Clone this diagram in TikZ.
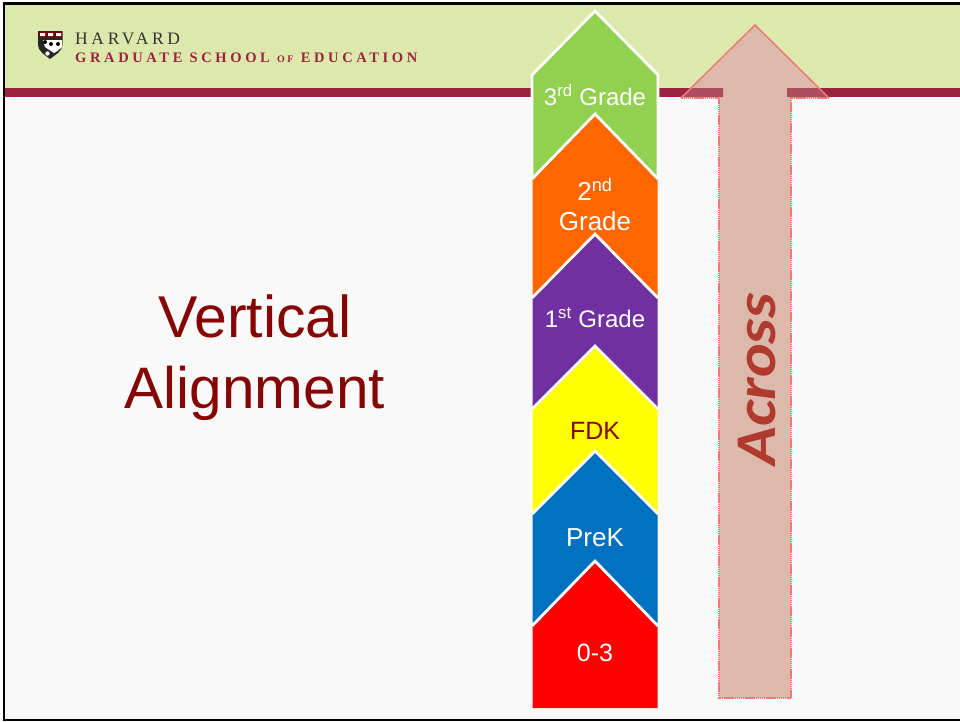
\documentclass[tikz,border=0pt]{standalone}
\usepackage{fontspec}
\setmainfont{Liberation Sans}
\newfontfamily\serifrm[LetterSpace=21]{Liberation Serif}
\newfontfamily\serifbd[LetterSpace=25]{Liberation Serif Bold}
\newfontfamily\crb{Carlito}
\definecolor{pagebg}{HTML}{F9F9F9}
\definecolor{bandgreen}{HTML}{DDE9AC}
\definecolor{burgundy}{HTML}{9A2340}
\definecolor{titlered}{HTML}{850505}
\definecolor{gthree}{HTML}{92D050}
\definecolor{gtwo}{HTML}{FF6600}
\definecolor{gone}{HTML}{7030A0}
\definecolor{gfdk}{HTML}{FFFF00}
\definecolor{gprek}{HTML}{0070C0}
\definecolor{gzero}{HTML}{FF0000}
\definecolor{arrowfill}{HTML}{DDB9AC}
\definecolor{arrowedge}{HTML}{F07878}
\definecolor{acrosscol}{HTML}{B03A2E}
\newcommand{\fs}[1]{\fontsize{#1}{#1}\selectfont}
\newcommand{\penta}[4]{% colour, apex y, shoulder y, bottom y
  \fill[#1] (532.5,#4) -- (532.5,#3) -- (595,#2) -- (657.5,#3) -- (657.5,#4) -- cycle;
  \draw[roof] (532,#3+1) -- (595,#2) -- (658,#3+1);
}
\tikzset{
  x=1pt,y=-1pt,
  roof/.style={white,line width=2.8pt,line join=miter},
  glabel/.style={text=white,font=\fs{25},align=center,inner sep=0pt},
  bigtitle/.style={text=titlered,font=\fs{59},inner sep=0pt,anchor=base},
}
\begin{document}
\begin{tikzpicture}
\useasboundingbox (0,0) rectangle (960,721);
\fill[white] (0,0) rectangle (960,721);
\fill[pagebg] (4,3) rectangle (960,719);
\fill[bandgreen] (4,3) rectangle (960,88);
\fill[burgundy] (4,88) rectangle (960,97);
% frame
\fill[black] (3,2) rectangle (960,4.5);
\fill[black] (3,2) rectangle (5.3,721);
\fill[black] (3,719) rectangle (960,721);
% shield
\fill[black!85] (38,31) -- (62.5,31) -- (62.5,45) .. controls (62.5,51) and (55,55) .. (50,59) .. controls (45,55) and (38,51) .. (38,45) -- cycle;
\fill[titlered!80!black] (38.5,31.5) rectangle (62,38);
\fill[white] (40,33) rectangle (45,36) (48,33) rectangle (53,36) (56,33) rectangle (61,36);
\fill[white] (43,40) -- (62,40) -- (62,47) .. controls (59,50) and (56,52) .. (54,53) -- (45,47) -- cycle;
\fill[black] (51,44) circle (2) (58,44) circle (2) (45,42) circle (2);
\fill[white] (47.5,53.5) circle (2.2);
% logo text
\node[inner sep=0pt,anchor=base west,text=black!80] (harvard) at (75,44) {\serifrm\fs{17.5}HARVARD};
\node[inner sep=0pt,anchor=base west,text=burgundy] (hgse) at (75,62) {\serifbd\fs{14.5}GRADUATE SCHOOL {\fs{10}OF} EDUCATION};
% title
\node[bigtitle] (t1) at (255,337) {Vertical};
\node[bigtitle,font=\fs{58.5}] (t2) at (255,408) {Alignment};
% pentagons
\fill[gthree] (532.5,178) -- (532.5,75) -- (595,11) -- (657.5,75) -- (657.5,178) -- cycle;
\draw[white,line width=2.8pt] (532,178) -- (532,75) -- (595,11) -- (658,75) -- (658,178);
\penta{gtwo}{114}{178}{298}
\penta{gone}{234}{297}{410}
\penta{gfdk}{346}{408}{515}
\penta{gprek}{451}{513}{627}
\penta{gzero}{561}{625}{708}
\node[glabel,font=\fs{24}] (l3) at (595,95) {3\textsuperscript{rd} Grade};
\node[glabel,font=\fs{26},text depth=0pt] (l2a) at (595,189) {2\textsuperscript{nd}};
\node[glabel,font=\fs{26}] (l2b) at (595,221) {Grade};
\node[glabel,font=\fs{24}] (l1) at (595,318) {1\textsuperscript{st} Grade};
\node[glabel,text=titlered] (lf) at (595,431) {FDK};
\node[glabel,font=\fs{26}] (lp) at (595,538) {PreK};
\node[glabel] (l0) at (595,653) {0-3};
% arrow
\fill[arrowfill] (755,25) -- (829,98) -- (791,98) -- (791,698) -- (719,698) -- (719,98) -- (681,98) -- cycle;
\fill[burgundy,opacity=.72] (692,88) -- (723,88) -- (723,97) -- (683,97) -- cycle;
\fill[burgundy,opacity=.72] (787,88) -- (818,88) -- (827,97) -- (787,97) -- cycle;
\draw[arrowedge,line width=1.5pt,line join=miter] (681,98) -- (755,25) -- (829,98);
\draw[arrowedge,line width=1.6pt,dash pattern=on 1.5pt off .6pt] (829,98) -- (791,98) -- (791,698) -- (719,698) -- (719,98) -- (681,98);
\node[rotate=90,inner sep=0pt,text=acrosscol] (across) at (757,379.5) {\scalebox{1}[.9]{\crb\bfseries\itshape\fs{64}Across}};
\end{tikzpicture}
\end{document}
